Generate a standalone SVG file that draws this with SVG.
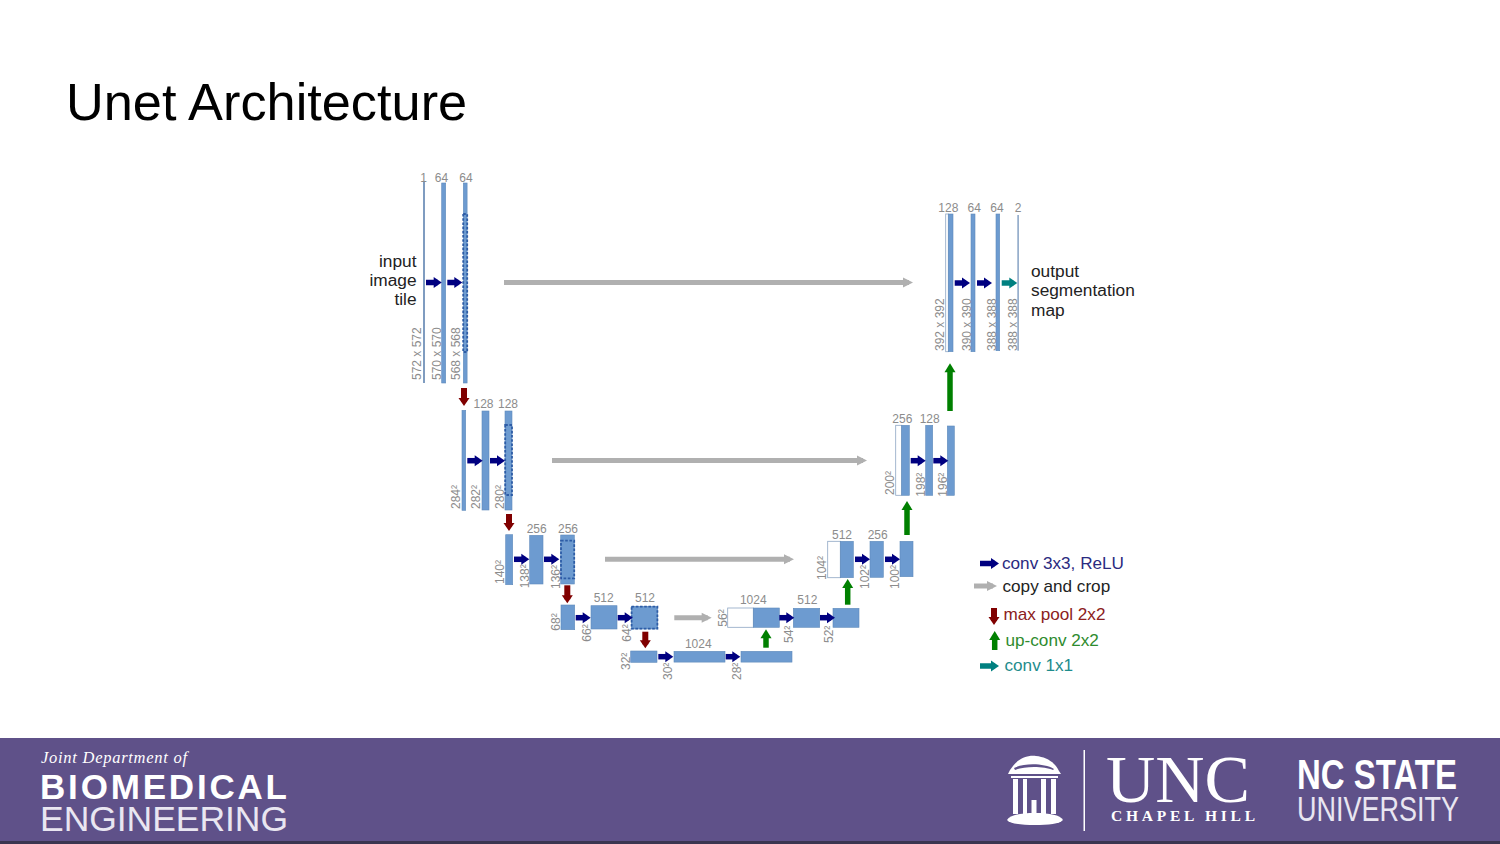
<svg xmlns="http://www.w3.org/2000/svg" width="1500" height="844" viewBox="0 0 1500 844">
<style>
text{font-family:"Liberation Sans",Arial,sans-serif}
.b{fill:#6d9bd0;stroke:#5f8abb;stroke-width:.6}
.t{fill:#7f9cc0;stroke:none}
.w{fill:#fff;stroke:#8ea6c4;stroke-width:.8}
.d{fill:none;stroke:#2d5ca6;stroke-width:1.8;stroke-dasharray:2.6 1.6}
.l{fill:#8c8c8c;font-size:12px}
.c{text-anchor:middle}
.a{fill:none;stroke-width:5}
.n{stroke:#000080;stroke-width:5.5;marker-end:url(#mn)}
.g{stroke:#b0b0b0;marker-end:url(#mg)}
.r{stroke:#800000;stroke-width:6;marker-end:url(#mr)}
.u{stroke:#008000;stroke-width:5.5;marker-end:url(#mu)}
.e{stroke:#008080;stroke-width:5.5;marker-end:url(#me)}
.m{fill:#222;font-size:17.3px}
.f{fill:#fff}
.x{fill:#e9e6f1}
.p{fill:#5f5189}
.s{font-size:17.15px}
</style>
<defs>
<marker id="mn" markerUnits="userSpaceOnUse" markerWidth="8" markerHeight="11" refX="4" refY="5.5" orient="auto" overflow="visible"><path d="M0 0L8 5.5L0 11z" fill="#000080"/></marker>
<marker id="mg" markerUnits="userSpaceOnUse" markerWidth="10" markerHeight="10" refX="6" refY="5" orient="auto" overflow="visible"><path d="M0 0L10 5L0 10z" fill="#b0b0b0"/></marker>
<marker id="mr" markerUnits="userSpaceOnUse" markerWidth="8" markerHeight="11" refX="4" refY="5.5" orient="auto" overflow="visible"><path d="M0 0L8 5.5L0 11z" fill="#800000"/></marker>
<marker id="mu" markerUnits="userSpaceOnUse" markerWidth="9" markerHeight="11" refX="4" refY="5.5" orient="auto" overflow="visible"><path d="M0 0L9 5.5L0 11z" fill="#008000"/></marker>
<marker id="me" markerUnits="userSpaceOnUse" markerWidth="8" markerHeight="11" refX="4" refY="5.5" orient="auto" overflow="visible"><path d="M0 0L8 5.5L0 11z" fill="#008080"/></marker>
</defs>
<rect width="1500" height="844" fill="#fff"/>
<text id="title" x="66" y="120" font-size="52.3" fill="#000">Unet Architecture</text>

<g id="n1"><rect class="t" x="423" y="182" width="2" height="201"/><text class="l c" x="423.5" y="181.5">1</text><text class="l" transform="translate(421,380) rotate(-90)">572 x 572</text></g>
<g id="n2"><rect class="b" x="441.7" y="183" width="4" height="200"/><text class="l c" x="441.5" y="181.5">64</text><text class="l" transform="translate(441,380) rotate(-90)">570 x 570</text></g>
<g id="n3"><rect class="b" x="463.3" y="183" width="3.8" height="200"/><rect class="d" x="463.2" y="214" width="4" height="138"/><text class="l c" x="466" y="181.5">64</text><text class="l" transform="translate(460,380) rotate(-90)">568 x 568</text></g>

<g id="n4"><rect class="b" x="462" y="410.3" width="3.7" height="100"/><text class="l" transform="translate(460,509) rotate(-90)">284²</text></g>
<g id="n5"><rect class="b" x="482" y="411" width="7" height="99"/><text class="l c" x="483.5" y="408">128</text><text class="l" transform="translate(480,509) rotate(-90)">282²</text></g>
<g id="n6"><rect class="b" x="505" y="411" width="7" height="99"/><rect class="d" x="505.2" y="425" width="6.8" height="70"/><text class="l c" x="508" y="408">128</text><text class="l" transform="translate(503.5,509) rotate(-90)">280²</text></g>

<g id="n7"><rect class="b" x="505.7" y="534.7" width="7" height="50"/><text class="l" transform="translate(504,584) rotate(-90)">140²</text></g>
<g id="n8"><rect class="b" x="529.7" y="535.3" width="13.3" height="48.7"/><text class="l c" x="536.7" y="532.7">256</text><text class="l" transform="translate(528.5,588.3) rotate(-90)">138²</text></g>
<g id="n9"><rect class="b" x="560.7" y="535" width="13.6" height="49"/><rect class="d" x="561" y="540.7" width="13.2" height="37.6"/><text class="l c" x="568" y="532.7">256</text><text class="l" transform="translate(559.5,589) rotate(-90)">136²</text></g>

<g id="n10"><rect class="b" x="561" y="605" width="13.7" height="24.7"/><text class="l" transform="translate(559.5,630.7) rotate(-90)">68²</text></g>
<g id="n11"><rect class="b" x="591" y="605.7" width="26" height="23.3"/><text class="l c" x="603.7" y="601.7">512</text><text class="l" transform="translate(590.5,641.7) rotate(-90)">66²</text></g>
<g id="n12"><rect class="b" x="631.3" y="606.3" width="26.4" height="22.7"/><rect class="d" x="631.6" y="606.6" width="25.8" height="22"/><text class="l c" x="645" y="601.7">512</text><text class="l" transform="translate(630.5,641.7) rotate(-90)">64²</text></g>

<g id="n13"><rect class="b" x="630.7" y="651" width="26.3" height="11.3"/><text class="l" transform="translate(630,670) rotate(-90)">32²</text></g>
<g id="n14"><rect class="b" x="674" y="651.3" width="51" height="10.8"/><text class="l c" x="698.3" y="647.7">1024</text><text class="l" transform="translate(672,680) rotate(-90)">30²</text></g>
<g id="n15"><rect class="b" x="741" y="651.3" width="51" height="10.8"/><text class="l" transform="translate(741,680) rotate(-90)">28²</text></g>

<g id="n16"><rect class="w" x="727.7" y="608" width="25.6" height="19.3"/><rect class="b" x="753.3" y="608" width="26" height="19.3"/><text class="l c" x="753.3" y="603.7">1024</text><text class="l" transform="translate(726.5,626.7) rotate(-90)">56²</text></g>
<g id="n17"><rect class="b" x="793.3" y="608.3" width="26.4" height="19"/><text class="l c" x="807.3" y="603.7">512</text><text class="l" transform="translate(793,643) rotate(-90)">54²</text></g>
<g id="n18"><rect class="b" x="833" y="608.3" width="26" height="19"/><text class="l" transform="translate(833,643) rotate(-90)">52²</text></g>

<g id="n19"><rect class="w" x="827.7" y="541.3" width="12.6" height="36.4"/><rect class="b" x="840.3" y="541.3" width="13" height="36.4"/><text class="l c" x="842" y="539">512</text><text class="l" transform="translate(826,580) rotate(-90)">104²</text></g>
<g id="n20"><rect class="b" x="870" y="541.3" width="13.3" height="36"/><text class="l c" x="877.7" y="539">256</text><text class="l" transform="translate(869,589) rotate(-90)">102²</text></g>
<g id="n21"><rect class="b" x="900" y="541.3" width="13" height="35.4"/><text class="l" transform="translate(899,589) rotate(-90)">100²</text></g>

<g id="n22"><rect class="w" x="895.7" y="425.3" width="6" height="70"/><rect class="b" x="901.7" y="425.3" width="7.6" height="70"/><text class="l c" x="902.3" y="423">256</text><text class="l" transform="translate(894,495) rotate(-90)">200²</text></g>
<g id="n23"><rect class="b" x="925.7" y="425.3" width="7" height="70"/><text class="l c" x="929.7" y="423">128</text><text class="l" transform="translate(924.5,496.7) rotate(-90)">198²</text></g>
<g id="n24"><rect class="b" x="947.3" y="426" width="7" height="69.3"/><text class="l" transform="translate(946.5,496.7) rotate(-90)">196²</text></g>

<g id="n25"><rect class="w" x="945.7" y="214" width="2.6" height="137.7"/><rect class="b" x="948.3" y="214" width="4.7" height="137.7"/><text class="l c" x="948.3" y="212.3">128</text><text class="l" transform="translate(944,351) rotate(-90)">392 x 392</text></g>
<g id="n26"><rect class="b" x="971" y="214" width="4" height="137.7"/><text class="l c" x="974.3" y="212.3">64</text><text class="l" transform="translate(971,351) rotate(-90)">390 x 390</text></g>
<g id="n27"><rect class="b" x="996" y="214" width="3.7" height="136.7"/><text class="l c" x="997" y="212.3">64</text><text class="l" transform="translate(996,351) rotate(-90)">388 x 388</text></g>
<g id="n28"><rect class="t" x="1017.4" y="215" width="1.4" height="135.7"/><text class="l c" x="1018" y="212.3">2</text><text class="l" transform="translate(1017,351) rotate(-90)">388 x 388</text></g>

<g id="label-input" text-anchor="end"><text class="m" x="416.5" y="266.5">input</text><text class="m" x="416.5" y="286">image</text><text class="m" x="416.5" y="305">tile</text></g>
<g id="label-output"><text class="m" x="1031" y="277">output</text><text class="m" x="1031" y="296">segmentation</text><text class="m" x="1031" y="315.5">map</text></g>

<g id="connectors">
<line class="a n" x1="426" y1="282.5" x2="437.7" y2="282.5"/>
<line class="a n" x1="447.3" y1="282.5" x2="458.3" y2="282.5"/>
<line class="a n" x1="467.3" y1="460.7" x2="478.7" y2="460.7"/>
<line class="a n" x1="490" y1="460.7" x2="501" y2="460.7"/>
<line class="a n" x1="514" y1="559.3" x2="525.3" y2="559.3"/>
<line class="a n" x1="544" y1="559.3" x2="555.3" y2="559.3"/>
<line class="a n" x1="575.7" y1="617.7" x2="586.7" y2="617.7"/>
<line class="a n" x1="617.7" y1="617.7" x2="628.7" y2="617.7"/>
<line class="a n" x1="658.3" y1="656.7" x2="669.3" y2="656.7"/>
<line class="a n" x1="725.7" y1="656.7" x2="736.3" y2="656.7"/>
<line class="a n" x1="779.3" y1="617.7" x2="790.3" y2="617.7"/>
<line class="a n" x1="820" y1="617.7" x2="831" y2="617.7"/>
<line class="a n" x1="855" y1="559.3" x2="866" y2="559.3"/>
<line class="a n" x1="885" y1="559.3" x2="896" y2="559.3"/>
<line class="a n" x1="910.7" y1="460.7" x2="921.7" y2="460.7"/>
<line class="a n" x1="933.3" y1="460.7" x2="944.3" y2="460.7"/>
<line class="a n" x1="954.7" y1="283" x2="966" y2="283"/>
<line class="a n" x1="977" y1="283" x2="988" y2="283"/>
<line class="a e" x1="1001.7" y1="283" x2="1013.3" y2="283"/>
<line class="a g" x1="504" y1="282.5" x2="909" y2="282.5"/>
<line class="a g" x1="552" y1="460.5" x2="863" y2="460.5"/>
<line class="a g" x1="605" y1="559.3" x2="790" y2="559.3"/>
<line class="a g" x1="674.3" y1="617.7" x2="707.7" y2="617.7"/>
<line class="a r" x1="464" y1="388" x2="464" y2="402"/>
<line class="a r" x1="509" y1="514" x2="509" y2="527"/>
<line class="a r" x1="567.3" y1="585.3" x2="567.3" y2="599.3"/>
<line class="a r" x1="645.3" y1="631.7" x2="645.3" y2="644.3"/>
<line class="a u" x1="766" y1="647.7" x2="766" y2="634.3"/>
<line class="a u" x1="847.7" y1="604.7" x2="847.7" y2="584"/>
<line class="a u" x1="907" y1="535" x2="907" y2="506"/>
<line class="a u" x1="950" y1="411" x2="950" y2="368.3"/>
</g>

<g id="legend">
<line class="a n" x1="980" y1="563.5" x2="995" y2="563.5"/>
<line class="a g" x1="974" y1="586" x2="993" y2="586"/>
<line class="a r" x1="994" y1="608" x2="994" y2="621"/>
<line class="a u" x1="994.7" y1="650" x2="994.7" y2="636"/>
<line class="a e" x1="980" y1="666" x2="995" y2="666"/>
<text class="s" x="1002" y="568.5" fill="#2a2a80">conv 3x3, ReLU</text>
<text class="s" x="1002.5" y="592" fill="#222">copy and crop</text>
<text class="s" x="1003.5" y="620" fill="#8b2020">max pool 2x2</text>
<text class="s" x="1005.5" y="646" fill="#2e8b2e">up-conv 2x2</text>
<text class="s" x="1004.5" y="671" fill="#1e8c8c">conv 1x1</text>
</g>

<g id="footer">
<rect y="738" width="1500" height="104" fill="#5f5189"/>
<rect y="841" width="1500" height="3" fill="#3a3550"/>
<text class="f" x="41" y="763" font-size="16.5" font-style="italic" style="font-family:'Liberation Serif',serif" textLength="146">Joint Department of</text>
<text class="f" x="40" y="799" font-size="35" font-weight="bold" textLength="247" lengthAdjust="spacing">BIOMEDICAL</text>
<text class="x" x="40" y="831" font-size="35.5" textLength="248" lengthAdjust="spacing">ENGINEERING</text>
<rect class="f" x="1083.5" y="750" width="1.5" height="81"/>
<text class="f" x="1106" y="802" font-size="67" style="font-family:'Liberation Serif',serif" textLength="144" lengthAdjust="spacingAndGlyphs">UNC</text>
<text class="f" x="1111" y="821" font-size="15.5" font-weight="bold" style="font-family:'Liberation Serif',serif" textLength="144" lengthAdjust="spacing">CHAPEL HILL</text>
<text class="f" x="1297" y="789" font-size="43" font-weight="bold" textLength="160" lengthAdjust="spacingAndGlyphs">NC STATE</text>
<text class="x" x="1297" y="821" font-size="35" textLength="162" lengthAdjust="spacingAndGlyphs">UNIVERSITY</text>
<g id="old-well">
<path class="f" d="M1013 766C1018 759 1027 755 1036 756C1046 757 1055 762 1059 771L1061 774L1008 774L1010 770z"/>
<path class="p" d="M1014 768C1024 763 1044 763 1054 769L1053 770C1044 766 1024 766 1015 770z"/>
<rect class="f" x="1011" y="776" width="47" height="2"/>
<rect class="f" x="1013" y="779" width="5" height="35"/><rect class="f" x="1023" y="779" width="4" height="35"/><rect class="f" x="1041" y="779" width="5" height="35"/><rect class="f" x="1051" y="779" width="5" height="35"/>
<rect class="f" x="1031.5" y="800" width="5" height="14"/>
<path class="f" d="M1007 820C1010 815 1020 813 1035 813C1050 813 1060 815 1063 820C1060 824 1048 825 1035 825C1022 825 1010 824 1007 820z"/>
</g>
</g>
</svg>
